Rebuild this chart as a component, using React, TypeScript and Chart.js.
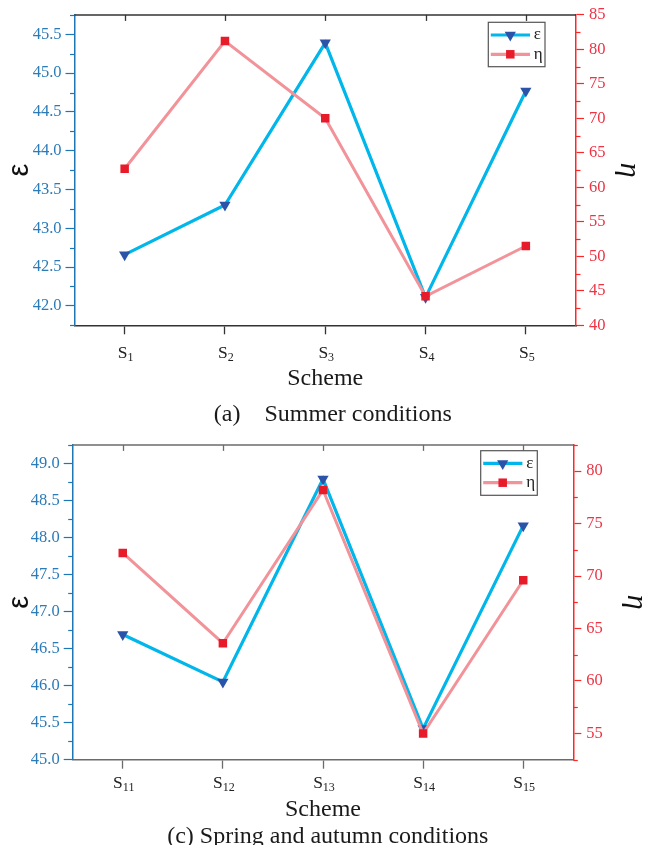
import React, { useEffect, useRef } from 'react';
import { Chart, registerables } from 'chart.js';

Chart.register(...registerables);

// ---------------- data ----------------
const summerSchemes = ['S1', 'S2', 'S3', 'S4', 'S5'];
const summerEpsilon = [42.66, 43.3, 45.39, 42.11, 44.77];
const summerEta = [62.7, 81.2, 70.0, 44.2, 51.5];

const springSchemes = ['S11', 'S12', 'S13', 'S14', 'S15'];
const springEpsilon = [46.69, 46.05, 48.79, 45.42, 48.16];
const springEta = [72.2, 63.6, 78.2, 55.0, 69.6];

const epsLabel = 'ε';
const etaLabel = 'η';
const xTitle = 'Scheme';
const summerCaption = '(a)    Summer conditions';
const springCaption = '(c) Spring and autumn conditions';

// ---------------- styles ----------------
const SERIF = '"Liberation Serif", "Times New Roman", serif';
const SANS = '"Liberation Sans", Arial, sans-serif';
const EPS_LINE = '#00B6EA';
const EPS_MARK = '#2B53A8';
const ETA_LINE = '#F2939A';
const ETA_MARK = '#E81B2B';
const LEFT_AXIS = '#1E77B4';
const LEFT_TEXT = '#2B7BB9';
const RIGHT_AXIS = '#FF2626';
const RIGHT_TEXT = '#EE3344';
const TRI_R = 6.5;
const SQ_R = 6;

type Panel = {
  labels: string[];
  eps: number[];
  eta: number[];
  epsMin: number;
  epsMax: number;
  etaMin: number;
  etaMax: number;
  caption: string;
  height: number;
  top: number;
  area: { left: number; right: number; top: number; bottom: number };
  frame: string;
  schemePad: number;
  labelDy: number;
  captionY: number;
  captionX: number;
  legend: { left: number; top: number; w: number; h: number };
  etaPad: number;
};

const panels: Panel[] = [
  {
    labels: summerSchemes,
    eps: summerEpsilon,
    eta: summerEta,
    epsMin: 41.75,
    epsMax: 45.75,
    etaMin: 40,
    etaMax: 85,
    caption: summerCaption,
    height: 430,
    top: 0,
    area: { left: 74.5, right: 576, top: 11.4, bottom: 325.3 },
    frame: '#333333',
    schemePad: 37.3,
    labelDy: 32.5,
    captionY: 420.6,
    captionX: 332.8,
    legend: { left: 488.3, top: 22.3, w: 56.7, h: 44.4 },
    etaPad: 2.5,
  },
  {
    labels: springSchemes,
    eps: springEpsilon,
    eta: springEta,
    epsMin: 45,
    epsMax: 49.25,
    etaMin: 52.5,
    etaMax: 82.5,
    caption: springCaption,
    height: 415,
    top: 430,
    area: { left: 72.7, right: 573.3, top: 11.3, bottom: 329.7 },
    frame: '#6b6b6b',
    schemePad: 21.3,
    labelDy: 28,
    captionY: 412.6,
    captionX: 327.8,
    legend: { left: 480.7, top: 20.7, w: 56.6, h: 44.6 },
    etaPad: -4.5,
  },
];

const W = 646;

function isMajor(v: number, major: number) {
  const r = v / major;
  return Math.abs(r - Math.round(r)) < 1e-6;
}

function drawTri(ctx: CanvasRenderingContext2D, x: number, y: number, r: number) {
  ctx.beginPath();
  let rad = Math.PI;
  for (let i = 0; i < 3; i++) {
    const px = x + Math.sin(rad) * r;
    const py = y - Math.cos(rad) * r;
    if (i === 0) ctx.moveTo(px, py);
    else ctx.lineTo(px, py);
    rad += (2 * Math.PI) / 3;
  }
  ctx.closePath();
  ctx.fill();
}

function drawSq(ctx: CanvasRenderingContext2D, x: number, y: number, r: number) {
  const s = Math.SQRT1_2 * r;
  ctx.fillRect(x - s, y - s, 2 * s, 2 * s);
}

function makeDecor(p: Panel) {
  return {
    id: 'decor',
    afterDraw(chart: any) {
      const ctx: CanvasRenderingContext2D = chart.ctx;
      const ca = chart.chartArea;
      ctx.save();

      // minor ticks on both y axes
      const minor = (id: string, major: number, color: string, dir: number, x0: number) => {
        const s = chart.scales[id];
        ctx.strokeStyle = color;
        ctx.lineWidth = 1.2;
        s.ticks.forEach((t: any) => {
          if (!isMajor(t.value, major)) {
            const y = Math.round(s.getPixelForValue(t.value)) + 0.5;
            ctx.beginPath();
            ctx.moveTo(x0, y);
            ctx.lineTo(x0 + dir * 4.5, y);
            ctx.stroke();
          }
        });
      };
      minor('y', 0.5, LEFT_AXIS, -1, ca.left);
      minor('y1', 5, RIGHT_AXIS, 1, ca.right);

      // top frame with inward ticks
      const xs = chart.scales.x;
      ctx.strokeStyle = p.frame;
      ctx.lineWidth = 1.5;
      ctx.beginPath();
      ctx.moveTo(ca.left, ca.top);
      ctx.lineTo(ca.right, ca.top);
      ctx.stroke();
      ctx.lineWidth = 1.3;
      p.labels.forEach((_, i) => {
        const x = Math.round(xs.getPixelForTick(i)) + 0.5;
        ctx.beginPath();
        ctx.moveTo(x, ca.top);
        ctx.lineTo(x, ca.top + 6);
        ctx.stroke();
      });

      // category labels with subscript
      ctx.fillStyle = '#222';
      ctx.textBaseline = 'alphabetic';
      ctx.textAlign = 'left';
      const yb = ca.bottom + p.labelDy;
      p.labels.forEach((lab, i) => {
        const x = xs.getPixelForTick(i);
        const base = lab.slice(0, 1);
        const sub = lab.slice(1);
        ctx.font = `17.5px ${SERIF}`;
        const w1 = ctx.measureText(base).width;
        ctx.font = `12px ${SERIF}`;
        const w2 = ctx.measureText(sub).width;
        const x0 = x - (w1 + w2) / 2 + 1;
        ctx.font = `17.5px ${SERIF}`;
        ctx.fillText(base, x0, yb);
        ctx.font = `12px ${SERIF}`;
        ctx.fillText(sub, x0 + w1, yb + 3.5);
      });

      // caption
      ctx.font = `24px ${SERIF}`;
      ctx.textAlign = 'center';
      ctx.fillStyle = '#1a1a1a';
      ctx.fillText(p.caption, p.captionX, p.captionY);

      // legend
      const L = p.legend;
      ctx.fillStyle = '#ffffff';
      ctx.fillRect(L.left, L.top, L.w, L.h);
      ctx.strokeStyle = '#555';
      ctx.lineWidth = 1.2;
      ctx.strokeRect(L.left, L.top, L.w, L.h);
      const rows = [
        { y: L.top + 12.7, line: EPS_LINE, mark: EPS_MARK, text: epsLabel, tri: true },
        { y: L.top + 32, line: ETA_LINE, mark: ETA_MARK, text: etaLabel, tri: false },
      ];
      rows.forEach((r) => {
        ctx.strokeStyle = r.line;
        ctx.lineWidth = 3.2;
        ctx.beginPath();
        ctx.moveTo(L.left + 2.5, r.y);
        ctx.lineTo(L.left + 41.7, r.y);
        ctx.stroke();
        ctx.fillStyle = r.mark;
        if (r.tri) drawTri(ctx, L.left + 22, r.y, TRI_R);
        else drawSq(ctx, L.left + 22, r.y, SQ_R);
        ctx.fillStyle = '#222';
        ctx.font = `17px ${SERIF}`;
        ctx.textAlign = 'left';
        ctx.textBaseline = 'middle';
        ctx.fillText(r.text, L.left + 45.5, r.y);
      });
      ctx.restore();
    },
  };
}

function PanelChart({ p }: { p: Panel }) {
  const ref = useRef<HTMLCanvasElement | null>(null);
  useEffect(() => {
    if (!ref.current) return;
    const chart = new Chart(ref.current, {
      type: 'line',
      data: {
        labels: p.labels,
        datasets: [
          {
            label: epsLabel,
            data: p.eps,
            yAxisID: 'y',
            borderColor: EPS_LINE,
            backgroundColor: EPS_MARK,
            borderWidth: 3.2,
            pointStyle: 'triangle',
            pointRotation: 180,
            pointRadius: TRI_R,
            pointBackgroundColor: EPS_MARK,
            pointBorderColor: EPS_MARK,
            pointBorderWidth: 0,
            tension: 0,
            order: 1,
          },
          {
            label: etaLabel,
            data: p.eta,
            yAxisID: 'y1',
            borderColor: ETA_LINE,
            backgroundColor: ETA_MARK,
            borderWidth: 3,
            pointStyle: 'rect',
            pointRadius: SQ_R,
            pointBackgroundColor: ETA_MARK,
            pointBorderColor: ETA_MARK,
            pointBorderWidth: 0,
            tension: 0,
            order: 0,
          },
        ],
      },
      options: {
        responsive: false,
        animation: false,
        devicePixelRatio: 1,
        layout: { padding: { top: p.area.top, left: 0, right: 0, bottom: 0 } },
        plugins: { legend: { display: false }, tooltip: { enabled: false }, title: { display: false } },
        scales: {
          x: {
            type: 'category',
            position: 'bottom',
            offset: true,
            grid: {
              drawOnChartArea: false,
              drawTicks: true,
              tickLength: 9,
              tickColor: p.frame,
              tickWidth: 1.3,
              offset: false,
            },
            border: { color: p.frame, width: 1.5 },
            ticks: { display: false },
            title: {
              display: true,
              text: xTitle,
              color: '#1a1a1a',
              font: { family: SERIF, size: 24, lineHeight: 1.2 },
              padding: { top: 0, bottom: p.schemePad },
            },
            afterFit: (s: any) => {
              s.height = p.height - p.area.bottom;
            },
          },
          y: {
            position: 'left',
            min: p.epsMin,
            max: p.epsMax,
            ticks: {
              stepSize: 0.25,
              autoSkip: false,
              color: LEFT_TEXT,
              font: { family: SERIF, size: 16.5 },
              padding: 4,
              callback: (v: any) => (isMajor(Number(v), 0.5) ? Number(v).toFixed(1) : ''),
            },
            grid: {
              drawOnChartArea: false,
              tickLength: 9,
              tickWidth: 1.2,
              tickColor: (c: any) => (c.tick && isMajor(c.tick.value, 0.5) ? LEFT_AXIS : 'rgba(0,0,0,0)'),
            },
            border: { color: LEFT_AXIS, width: 1.5 },
            title: {
              display: true,
              text: epsLabel,
              color: '#111',
              font: { family: SANS, size: 29, lineHeight: 1 },
              padding: { top: 5.5, bottom: 0 },
            },
            afterFit: (s: any) => {
              s.width = p.area.left;
            },
          },
          y1: {
            position: 'right',
            min: p.etaMin,
            max: p.etaMax,
            ticks: {
              stepSize: 2.5,
              autoSkip: false,
              color: RIGHT_TEXT,
              font: { family: SERIF, size: 16.5 },
              padding: 5,
              callback: (v: any) => (isMajor(Number(v), 5) ? String(Math.round(Number(v))) : ''),
            },
            grid: {
              drawOnChartArea: false,
              tickLength: 8,
              tickWidth: 1.2,
              tickColor: (c: any) => (c.tick && isMajor(c.tick.value, 5) ? RIGHT_AXIS : 'rgba(0,0,0,0)'),
            },
            border: { color: RIGHT_AXIS, width: 1.5 },
            title: {
              display: true,
              text: etaLabel,
              color: '#111',
              font: { family: SERIF, size: 30, style: 'italic', lineHeight: 1 },
              padding: { top: p.etaPad, bottom: 0 },
            },
            afterFit: (s: any) => {
              s.width = W - p.area.right;
            },
          },
        },
      } as any,
      plugins: [makeDecor(p)],
    });
    return () => chart.destroy();
  }, [p]);
  return (
    <canvas
      ref={ref}
      width={W}
      height={p.height}
      style={{ position: 'absolute', left: 0, top: p.top, width: W, height: p.height, display: 'block' }}
    />
  );
}

export default function App() {
  return (
    <div style={{ position: 'absolute', left: 0, top: 0, width: W, height: 845, background: '#fff' }}>
      {panels.map((p, i) => (
        <PanelChart key={i} p={p} />
      ))}
    </div>
  );
}
